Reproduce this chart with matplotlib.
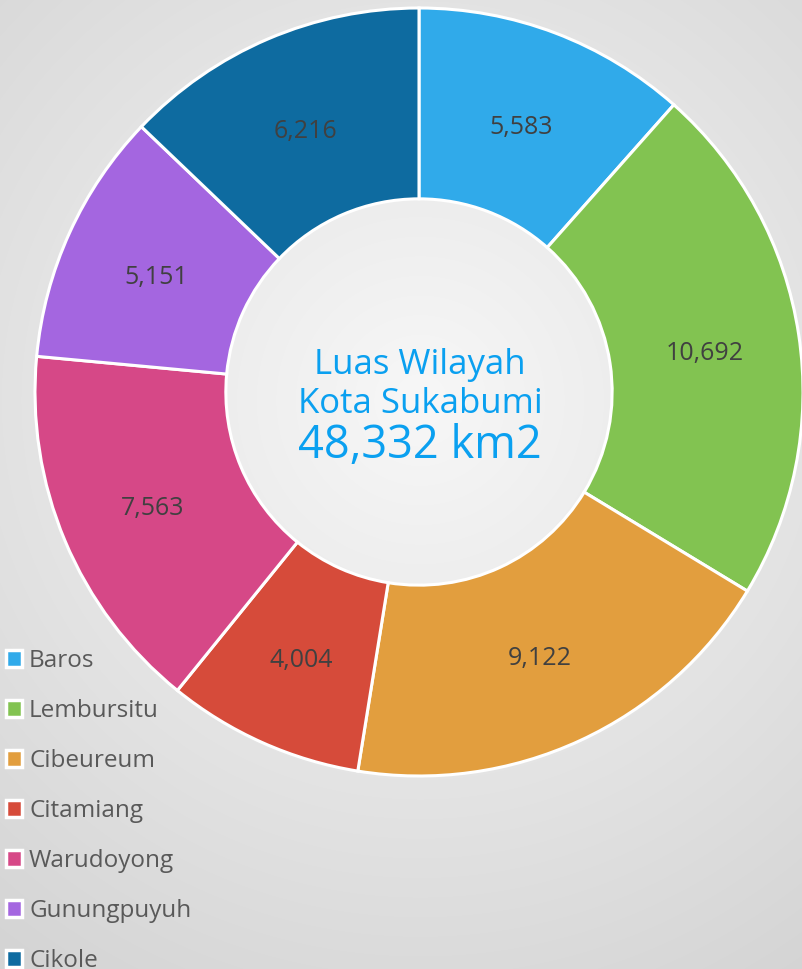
import numpy as np
import matplotlib
matplotlib.use("Agg")
import matplotlib.pyplot as plt

categories = ["Baros", "Lembursitu", "Cibeureum", "Citamiang", "Warudoyong", "Gunungpuyuh", "Cikole"]
values = [5.583, 10.692, 9.122, 4.004, 7.563, 5.151, 6.216]
value_labels = ["5,583", "10,692", "9,122", "4,004", "7,563", "5,151", "6,216"]
colors = ["#30aaea", "#82c351", "#e29e3e", "#d64b3a", "#d64887", "#a466e0", "#0e6ba0"]
center_line1 = "Luas Wilayah"
center_line2 = "Kota Sukabumi"
center_total = "48,332 km2"

plt.rcParams['font.family'] = ['Open Sans', 'DejaVu Sans']

W, H = 802, 969
fig = plt.figure(figsize=(W / 100, H / 100), dpi=100)

# background radial gradient
bg = fig.add_axes([0, 0, 1, 1])
yy, xx = np.mgrid[0:H, 0:W]
d = np.sqrt((xx - 420) ** 2 + (yy - 400) ** 2) / 800.0
lvl = 0.97 - 0.16 * np.clip(d, 0, 1.2)
img = np.dstack([lvl, lvl, lvl])
bg.imshow(img, extent=[0, W, H, 0], aspect='auto')
bg.set_axis_off()

ax = fig.add_axes([0, 0, 1, 1])
ax.patch.set_alpha(0)

cx, cy = 419, H - 392
R = 384
width = R * 0.497
wedges, _ = ax.pie(values, colors=colors, startangle=90, counterclock=False,
                   center=(cx, cy), radius=R, frame=True,
                   wedgeprops=dict(width=width, edgecolor="white", linewidth=2.2))
ax.set_xlim(0, W)
ax.set_ylim(0, H)
ax.set_aspect('equal')
ax.set_axis_off()

total = sum(values)
ang = 90.0
rmid = R - width / 2
for v, lab in zip(values, value_labels):
    a = ang - v / total * 360 / 2
    ang -= v / total * 360
    x = cx + rmid * np.cos(np.radians(a))
    y = cy + rmid * np.sin(np.radians(a)) - 5
    ax.text(x, y, lab, ha='center', va='center', fontsize=18, color="#404040")

blue = "#0aa0f0"
ax.text(420, H - 374, center_line1, ha='center', va='baseline', fontsize=25, color=blue)
ax.text(420, H - 413, center_line2, ha='center', va='baseline', fontsize=25, color=blue)
ax.text(420, H - 458, center_total, ha='center', va='baseline', fontsize=32.5, color=blue)

leg = ax.legend(wedges, categories, loc='upper left',
                bbox_to_anchor=(6 / W, 1 - 649 / H), bbox_transform=fig.transFigure,
                frameon=False, fontsize=17.5, handlelength=0.65, handleheight=0.65,
                handletextpad=0.3, labelspacing=1.07, borderpad=0, borderaxespad=0)
for t in leg.get_texts():
    t.set_color("#595959")
for h in leg.legend_handles:
    h.set_edgecolor("white")
    h.set_linewidth(2.5)

fig.savefig("out.png", dpi=100)
